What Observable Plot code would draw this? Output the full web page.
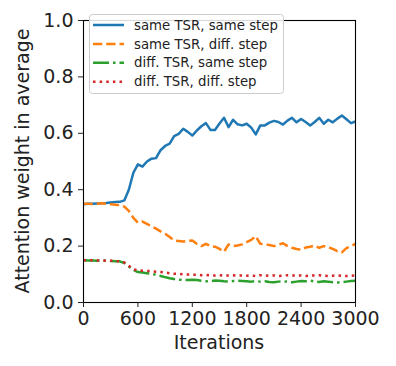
<!DOCTYPE html>
<html>
<head>
<meta charset="utf-8">
<script src="https://cdn.jsdelivr.net/npm/d3@7"></script>
<script src="https://cdn.jsdelivr.net/npm/@observablehq/plot@0.6"></script>
<style>
html,body{margin:0;padding:0;background:#fff;}
#chart{width:396px;height:366px;}
</style>
</head>
<body>
<div id="chart"></div>
<script>
const iterations = d3.range(0, 3001, 50);
const seriesNames = ["same TSR, same step", "same TSR, diff. step", "diff. TSR, same step", "diff. TSR, diff. step"];
const sameTsrSameStep = [0.348,0.350,0.350,0.351,0.352,0.353,0.355,0.356,0.357,0.362,0.40,0.46,0.49,0.482,0.50,0.51,0.512,0.54,0.555,0.563,0.59,0.598,0.616,0.605,0.592,0.61,0.625,0.636,0.612,0.612,0.635,0.655,0.622,0.648,0.632,0.628,0.634,0.62,0.596,0.628,0.628,0.638,0.644,0.64,0.631,0.645,0.655,0.639,0.651,0.64,0.628,0.64,0.655,0.634,0.648,0.639,0.652,0.663,0.65,0.636,0.642];
const sameTsrDiffStep = [0.35,0.35,0.349,0.35,0.352,0.35,0.348,0.347,0.345,0.34,0.325,0.30,0.283,0.287,0.279,0.27,0.262,0.252,0.244,0.232,0.22,0.218,0.216,0.218,0.22,0.208,0.2,0.208,0.2,0.198,0.19,0.18,0.206,0.2,0.202,0.206,0.214,0.222,0.235,0.208,0.206,0.204,0.2,0.205,0.21,0.2,0.194,0.19,0.187,0.195,0.198,0.202,0.194,0.2,0.196,0.19,0.182,0.178,0.193,0.2,0.208];
const diffTsrSameStep = [0.15,0.149,0.149,0.148,0.149,0.148,0.147,0.146,0.146,0.14,0.128,0.115,0.108,0.106,0.104,0.102,0.098,0.094,0.09,0.086,0.083,0.081,0.08,0.08,0.081,0.08,0.077,0.075,0.076,0.078,0.077,0.075,0.074,0.076,0.077,0.076,0.075,0.074,0.076,0.074,0.075,0.073,0.072,0.074,0.076,0.073,0.072,0.074,0.076,0.075,0.078,0.074,0.073,0.075,0.074,0.072,0.071,0.072,0.074,0.076,0.077];
const diffTsrDiffStep = [0.15,0.149,0.15,0.149,0.148,0.149,0.148,0.147,0.146,0.142,0.13,0.118,0.114,0.113,0.112,0.111,0.109,0.108,0.106,0.104,0.102,0.102,0.1,0.099,0.099,0.098,0.097,0.098,0.096,0.096,0.097,0.095,0.096,0.097,0.095,0.096,0.095,0.096,0.094,0.097,0.096,0.095,0.096,0.094,0.095,0.097,0.096,0.095,0.096,0.094,0.095,0.096,0.097,0.095,0.094,0.095,0.096,0.095,0.094,0.095,0.096];
const xTicks = [0, 600, 1200, 1800, 2400, 3000];
const yTicks = [0, 0.2, 0.4, 0.6, 0.8, 1.0];

const colors = ["#1f77b4", "#ff7f0e", "#2ca02c", "#d62728"];
const lw = 2.5;
const dashes = [null, `${3.7*lw},${1.6*lw}`, `${6.4*lw},${1.6*lw},${1*lw},${1.6*lw}`, `${1*lw},${1.65*lw}`];
const allValues = [sameTsrSameStep, sameTsrDiffStep, diffTsrSameStep, diffTsrDiffStep];

const lineMarks = allValues.map((vals, i) =>
  Plot.line(iterations.map((it, j) => ({it, v: vals[j]})), {
    x: "it", y: "v", stroke: colors[i], strokeWidth: lw,
    strokeDasharray: dashes[i] || undefined,
    strokeLinecap: "butt",
    strokeLinejoin: "round"
  })
);

const W = 396, H = 366, mL = 83, mR = 41, mT = 20, mB = 64;
const chart = Plot.plot({
  width: W, height: H,
  marginLeft: mL, marginRight: mR, marginTop: mT, marginBottom: mB,
  style: {fontFamily: "DejaVu Sans", fontSize: "19px", color: "#222", background: "white"},
  x: {domain: [0, 3000]},
  y: {domain: [0, 1]},
  marks: [
    ...lineMarks,
    Plot.frame({stroke: "black", strokeWidth: 1.1}),
    Plot.axisX({ticks: xTicks, tickSize: 5, tickPadding: 4, label: null, tickFormat: d => String(d), fontSize: 19}),
    Plot.axisY({ticks: yTicks, tickSize: 5, tickPadding: 5, label: null, tickFormat: d => d.toFixed(1), fontSize: 19})
  ]
});
document.getElementById("chart").appendChild(chart);

const svg = d3.select(chart);
// axis labels
svg.append("text").attr("x", mL + (W - mL - mR) / 2).attr("y", 349)
  .attr("text-anchor", "middle").attr("font-size", 19).attr("fill", "#222").text("Iterations");
svg.append("text").attr("transform", `translate(29,${mT + (H - mT - mB) / 2}) rotate(-90)`)
  .attr("text-anchor", "middle").attr("font-size", 19).attr("fill", "#222").text("Attention weight in average");

// legend
const lg = svg.append("g");
lg.append("rect").attr("x", 89.5).attr("y", 14.5).attr("width", 194).attr("height", 79)
  .attr("rx", 3).attr("fill", "white").attr("fill-opacity", 0.85).attr("stroke", "#ccc");
seriesNames.forEach((name, i) => {
  const y = 25 + i * 18.9;
  lg.append("line").attr("x1", 93).attr("x2", 124).attr("y1", y).attr("y2", y)
    .attr("stroke", colors[i]).attr("stroke-width", lw)
    .attr("stroke-dasharray", dashes[i] || null)
    .attr("stroke-linecap", "butt");
  lg.append("text").attr("x", 134).attr("y", y).attr("dy", "0.35em")
    .attr("text-anchor", "start")
    .attr("font-size", 13.3).attr("fill", "#222").text(name);
});
</script>
</body>
</html>
